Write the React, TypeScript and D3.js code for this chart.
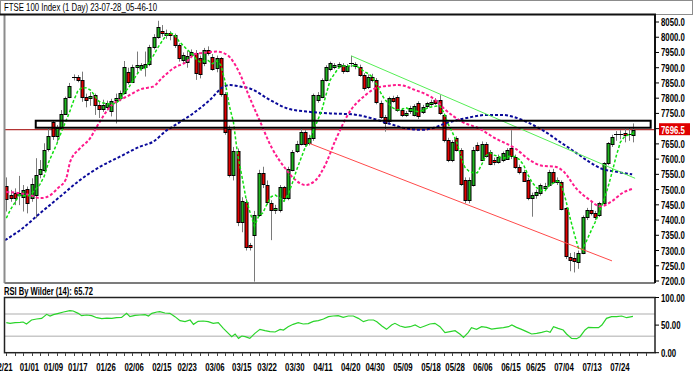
import React from 'react';
import * as d3 from 'd3';

// daily candles, oldest first
const opens = [
  7513, 7482, 7488, 7482, 7477, 7501, 7471, 7482, 7550, 7564, 7633, 7721, 7674, 7701, 7747, 7805, 7866, 7869, 7860, 7805,
  7798, 7810, 7778, 7766, 7772, 7758, 7794, 7800, 7818, 7887, 7854, 7903, 7898, 7903, 7914, 7969, 8002, 8020, 8007, 8013,
  8007, 7975, 7925, 7920, 7942, 7947, 7931, 7914, 7958, 7936, 7898, 7931, 7814, 7700, 7548, 7628, 7395, 7460, 7318, 7351,
  7417, 7555, 7515, 7457, 7433, 7433, 7507, 7471, 7566, 7628, 7652, 7690, 7652, 7668, 7795, 7805, 7860, 7893, 7903, 7905,
  7909, 7890, 7910, 7905, 7903, 7876, 7838, 7871, 7860, 7785, 7739, 7723, 7799, 7805, 7761, 7745, 7756, 7745, 7783, 7756,
  7772, 7781, 7794, 7794, 7745, 7663, 7597, 7668, 7630, 7530, 7466, 7515, 7646, 7599, 7650, 7624, 7597, 7590, 7597, 7602,
  7635, 7608, 7575, 7559, 7531, 7471, 7482, 7488, 7505, 7515, 7559, 7526, 7526, 7438, 7280, 7274, 7263, 7291, 7409, 7433,
  7422, 7415, 7455, 7586, 7652, 7680, 7682, 7687, 7680, 7680,
];
const highs = [
  7540, 7499, 7504, 7545, 7515, 7510, 7537, 7603, 7597, 7652, 7701, 7725, 7712, 7761, 7805, 7850, 7878, 7876, 7887, 7815,
  7820, 7815, 7790, 7795, 7792, 7798, 7815, 7825, 7922, 7900, 7910, 7953, 7915, 7953, 7975, 8010, 8054, 8040, 8025, 8020,
  8012, 7980, 7950, 7955, 7960, 7958, 7940, 7965, 7970, 7945, 7940, 7935, 7820, 7710, 7640, 7635, 7475, 7470, 7325, 7430,
  7565, 7575, 7530, 7465, 7450, 7515, 7512, 7575, 7630, 7660, 7700, 7695, 7680, 7815, 7820, 7865, 7908, 7920, 7915, 7918,
  7915, 7912, 7939, 7918, 7910, 7882, 7878, 7880, 7866, 7792, 7745, 7805, 7808, 7810, 7768, 7758, 7775, 7780, 7790, 7778,
  7788, 7795, 7800, 7810, 7750, 7670, 7662, 7675, 7636, 7540, 7540, 7640, 7655, 7658, 7656, 7630, 7605, 7615, 7625, 7636,
  7695, 7615, 7582, 7565, 7538, 7490, 7500, 7520, 7522, 7565, 7568, 7540, 7530, 7442, 7292, 7295, 7300, 7415, 7440, 7460,
  7430, 7460, 7590, 7656, 7680, 7692, 7695, 7700, 7702, 7717,
];
const lows = [
  7428, 7460, 7449, 7449, 7428, 7422, 7460, 7406, 7537, 7559, 7625, 7663, 7657, 7696, 7745, 7800, 7858, 7852, 7788, 7770,
  7775, 7745, 7735, 7755, 7760, 7740, 7717, 7790, 7812, 7845, 7850, 7880, 7890, 7871, 7905, 7960, 7995, 8002, 7995, 7990,
  7965, 7920, 7915, 7900, 7935, 7860, 7865, 7905, 7940, 7890, 7885, 7805, 7680, 7540, 7530, 7380, 7360, 7300, 7300, 7198,
  7410, 7505, 7450, 7334, 7420, 7425, 7460, 7465, 7560, 7620, 7645, 7640, 7645, 7660, 7785, 7800, 7855, 7888, 7895, 7898,
  7880, 7885, 7902, 7895, 7870, 7825, 7830, 7852, 7780, 7732, 7690, 7718, 7785, 7755, 7738, 7738, 7748, 7740, 7732, 7748,
  7765, 7775, 7778, 7745, 7655, 7590, 7590, 7625, 7512, 7455, 7455, 7510, 7625, 7595, 7605, 7580, 7580, 7585, 7590, 7598,
  7600, 7568, 7550, 7525, 7465, 7411, 7470, 7480, 7495, 7510, 7520, 7515, 7432, 7272, 7232, 7228, 7240, 7288, 7400, 7415,
  7400, 7410, 7450, 7580, 7640, 7660, 7665, 7655, 7660, 7655,
];
const closes = [
  7471, 7473, 7471, 7490, 7499, 7455, 7517, 7548, 7566, 7630, 7677, 7674, 7701, 7747, 7800, 7841, 7869, 7860, 7805, 7794,
  7806, 7778, 7766, 7778, 7785, 7790, 7800, 7816, 7903, 7854, 7903, 7909, 7909, 7912, 7969, 8002, 8035, 8013, 8013, 8007,
  7975, 7931, 7942, 7940, 7953, 7882, 7878, 7958, 7947, 7898, 7931, 7814, 7690, 7548, 7628, 7395, 7464, 7313, 7313, 7417,
  7555, 7520, 7460, 7433, 7440, 7507, 7471, 7566, 7624, 7650, 7690, 7652, 7668, 7810, 7810, 7860, 7903, 7914, 7909, 7912,
  7890, 7905, 7914, 7912, 7876, 7832, 7871, 7860, 7788, 7739, 7720, 7799, 7790, 7761, 7745, 7750, 7767, 7774, 7739, 7772,
  7783, 7789, 7783, 7750, 7663, 7597, 7655, 7630, 7520, 7466, 7531, 7630, 7630, 7650, 7610, 7586, 7590, 7607, 7619, 7630,
  7608, 7575, 7559, 7531, 7471, 7482, 7493, 7515, 7512, 7559, 7526, 7531, 7438, 7280, 7271, 7263, 7291, 7409, 7433, 7422,
  7409, 7455, 7586, 7652, 7674, 7682, 7684, 7679, 7682, 7696.5,
];
// the four closes before the first bar, for the 5-day average
const priorCloses = [7332, 7361, 7370, 7497];

// 20- and 50-day averages: [bar, price]
const pinkMA = [
  [0, 7492], [3.3, 7488], [5.6, 7482], [8.2, 7472], [10.5, 7482], [12.2, 7504], [14.2, 7535], [15.2, 7592],
  [17.5, 7635], [19.9, 7668], [21.5, 7706], [24.7, 7772], [28.6, 7805], [32.6, 7832], [34.9, 7838], [37, 7866],
  [39.7, 7898], [42.9, 7920], [44.9, 7945], [47.6, 7950], [50, 7953], [52.5, 7942], [55.3, 7887], [57.6, 7810],
  [60, 7734], [63.2, 7635], [66.3, 7570], [68.7, 7532], [71.1, 7515], [73.5, 7530], [75.8, 7580], [78.2, 7660],
  [81.4, 7750], [85.4, 7810], [88.5, 7836], [93.3, 7843], [97.2, 7827], [102, 7794], [104.4, 7762], [108.3, 7723],
  [112.3, 7701], [116.3, 7668], [121, 7635], [125, 7592], [127.4, 7578], [130.5, 7575], [132.5, 7559], [135.5, 7504],
  [138.8, 7465], [141.2, 7445], [144, 7462], [146.4, 7488], [148.8, 7502],
];
const blueMA = [
  [-0.3, 7334], [3.3, 7367], [8, 7422], [12.8, 7477], [17.5, 7531], [22.3, 7575], [27, 7608], [31.8, 7641],
  [34.9, 7657], [38.2, 7695], [39.6, 7707], [44.4, 7750], [48.4, 7794], [51.5, 7836], [53.2, 7843], [55.6, 7838],
  [57.9, 7832], [62.7, 7794], [66.7, 7767], [71.4, 7756], [77, 7750], [82.2, 7747], [86.9, 7734], [90.9, 7717],
  [94.9, 7701], [98.8, 7696], [101.2, 7701], [104.4, 7717], [109.1, 7734], [114.3, 7745], [117.9, 7745], [120.5, 7739],
  [124.5, 7717], [127.4, 7696], [132.1, 7652], [134.5, 7630], [138.5, 7592], [141.6, 7568], [144.8, 7559], [148.8, 7550],
];

// RSI (14): [bar, value]
const rsiPoints = [
  [0, 54.4], [0.9, 53.2], [2.1, 54.4], [3.3, 55], [4, 55.6], [4.8, 52], [6, 59.2], [7.2, 61], [8.4, 62.2], [9.6, 69.5],
  [10.4, 66.5], [11.2, 68.9], [12.4, 71.3], [13.6, 73.7], [15.1, 76.1], [15.9, 75.5], [17.1, 71.3], [17.9, 67.1],
  [19.1, 68.3], [20.3, 67.1], [21.5, 63.4], [22.7, 61.6], [23.9, 62.8], [25.1, 62.2], [26.2, 63.4], [27.4, 64],
  [28.6, 71.3], [29.4, 65.3], [30.6, 67.7], [31.8, 68.3], [33, 68.9], [33.8, 66.5], [34.6, 71.3], [35.8, 73.7],
  [36.5, 74.3], [37.7, 71.9], [38.9, 71.3], [40.1, 65.3], [41.3, 58], [42.5, 56.2], [43.7, 59.2], [44.5, 51.4],
  [45.6, 56.8], [46.8, 57.4], [48, 56.2], [49.2, 53.2], [50.4, 54.4], [51.6, 44.1], [52.8, 35.1], [53.6, 29],
  [54.4, 33.9], [55.2, 26], [56, 30.2], [56.8, 29], [57.9, 26], [59.1, 35.1], [60.3, 42.3], [61.5, 39.9],
  [62.7, 38.1], [63.9, 37.5], [65.1, 42.3], [65.9, 41.1], [67, 47.1], [68.2, 51.4], [69.4, 54.4], [70.6, 52],
  [71.8, 52.6], [73, 56.8], [74.2, 58], [75.4, 61], [76.6, 65.3], [77.7, 66.5], [78.9, 67.1], [80.1, 64],
  [81.3, 66.5], [82.5, 66.5], [83.7, 62.2], [84.9, 56.2], [86.1, 59.2], [87.3, 59.2], [88.1, 56.2], [89.3, 48.4],
  [90.4, 42.3], [91.6, 50.2], [92.4, 53.2], [93.6, 48.4], [94.8, 45.9], [96, 47.1], [97.2, 50.2], [98.4, 45.3],
  [99.5, 48.4], [100.7, 52], [101.9, 53.2], [103.1, 47.1], [104.3, 36.3], [105.5, 38.1], [106.7, 39.9], [107.9, 33.3],
  [108.7, 27.8], [109.8, 36.3], [110.6, 45.3], [111.8, 42.3], [113, 47.1], [114.2, 45.9], [115.4, 42.9], [116.6, 44.1],
  [118.2, 45.3], [119.4, 47.1], [120.2, 50.2], [121.3, 45.9], [122.5, 42.3], [123.7, 38.1], [124.9, 33.9], [126.1, 35.1],
  [127.3, 36.9], [128.5, 39.3], [129.3, 36.9], [130.1, 47.1], [131.2, 44.1], [132.4, 41.1], [133.2, 33.9], [134.4, 26],
  [135.6, 25.4], [136.4, 29], [137.6, 41.1], [138.4, 45.9], [139.6, 45.3], [140.8, 45.3], [141.6, 50.2], [142.7, 62.2],
  [143.9, 65.3], [145.1, 65.3], [146.3, 66.5], [147.5, 63.4], [149, 65.72],
];

// drawn objects: [bar, price]
const greenTrend = [[82, 7939], [149.5, 7537]];
const redTrend = [[72, 7652], [144, 7266]];
const zoneBox = [[7, 7726], [153.2, 7703]];

const dateLabels = ['12/21', '01/01', '01/09', '01/17', '01/26', '02/06', '02/15', '02/23', '03/06', '03/15', '03/22', '03/30',
  '04/11', '04/20', '04/30', '05/09', '05/18', '05/28', '06/06', '06/15', '06/25', '07/04', '07/13', '07/24'];
const dateBars = [-0.8, 5.5, 11.2, 17, 23.7, 30.4, 37, 43, 49.6, 56, 62, 68.6, 75.3, 81.9, 87.7, 94.3, 101, 106.7,
  113.3, 120, 125.9, 132.6, 139.3, 145.9];
const priceTicks = [8050, 8000, 7950, 7900, 7850, 7800, 7750, 7700, 7650, 7600, 7550, 7500, 7450, 7400, 7350, 7300, 7250, 7200];
const rsiTicks = [100, 50, 0];
const rsiBands = [70, 30];
const lastPrice = 7696.5;
const lastRsi = 65.72;

const W = 693;
const H = 390;
const L = 4.5;
const R = 655;
const TOP = 14.5;
const BOT = 283;
const sans = '"Liberation Sans", Arial, sans-serif';

// the chart's font is a tall, narrow bold face: squeeze Liberation Sans to that width
const squeeze = s => s.split('').reduce((w, ch) => w + (/[0-9]/.test(ch) ? 4.3 : 2.3), 0);

const Label = ({ x, y, text, anchor = 'start', fill = '#000' }) => (
  <text x={x} y={y} textAnchor={anchor} fontFamily={sans} fontSize={10.5} fontWeight="bold" fill={fill}
    textLength={squeeze(text)} lengthAdjust="spacingAndGlyphs">
    {text}
  </text>
);

const App = () => {
  const x = d3.scaleLinear().domain([0, 149]).range([6.3, 633]);
  const y = d3.scaleLinear().domain([7200, 8050]).range([281, 22]);
  const ry = d3.scaleLinear().domain([0, 100]).range([352.7, 297.5]);

  const all = [...priorCloses, ...closes];
  const sma5 = closes.map((_, i) => [i, d3.mean(all.slice(i, i + 5))]);

  const priceLine = d3.line().x(d => x(d[0])).y(d => y(d[1]));
  const smooth = d3.line().x(d => x(d[0])).y(d => y(d[1])).curve(d3.curveMonotoneX);
  const rsiLine = d3.line().x(d => x(d[0])).y(d => ry(d[1]));

  const px = v => Math.round(v) + 0.5;

  return (
    <div style={{ position: 'absolute', left: 0, top: 0, background: '#fff' }}>
      <svg width={W} height={H} style={{ display: 'block' }}>
        <defs>
          <clipPath id="main">
            <rect x={L} y={TOP} width={R - L} height={BOT - TOP} />
          </clipPath>
          <clipPath id="low">
            <rect x={L} y={297} width={R - L} height={56} />
          </clipPath>
        </defs>
        <rect width={W} height={H} fill="#fff" />

        {/* title bar */}
        <rect x={0.5} y={0.5} width={692} height={14} fill="#fff" stroke="#8c8c8c" />
        <text x={4} y={11} fontFamily={sans} fontSize={10.5} textLength={153} lengthAdjust="spacingAndGlyphs">
          FTSE 100 Index (1 Day) 23-07-28_05-46-10
        </text>

        {/* price panel */}
        <g clipPath="url(#main)">
          <line x1={L} x2={R} y1={y(lastPrice)} y2={y(lastPrice)} stroke="#a00000" strokeWidth={1} />
          {closes.map((c, i) => {
            const o = opens[i];
            const cx = Math.round(x(i));
            const t = y(Math.max(o, c));
            const b = y(Math.min(o, c));
            return (
              <g key={i}>
                <line x1={cx + 0.5} x2={cx + 0.5} y1={y(highs[i])} y2={y(lows[i])} stroke="#7a7a7a" />
                {b - t < 1.5 ? (
                  <line x1={cx - 2} x2={cx + 3} y1={px(t)} y2={px(t)} stroke="#000" />
                ) : (
                  <rect x={cx - 1} y={Math.round(t) + 0.5} width={3} height={Math.max(1, Math.round(b - t))}
                    fill={c >= o ? '#1fb51f' : '#e00000'} stroke="#000" />
                )}
              </g>
            );
          })}
          <path d={smooth(blueMA)} fill="none" stroke="#0a0a9a" strokeWidth={2} strokeDasharray="3,2" />
          <path d={smooth(pinkMA)} fill="none" stroke="#ff1a8c" strokeWidth={2} strokeDasharray="3,2" />
          <path d={priceLine(sma5)} fill="none" stroke="#10e010" strokeWidth={1.5} strokeDasharray="3,2" />
          <path d={priceLine(greenTrend)} fill="none" stroke="#55ee55" strokeWidth={1} />
          <path d={priceLine(redTrend)} fill="none" stroke="#ff4a4a" strokeWidth={1} />
          <rect x={x(zoneBox[0][0])} y={y(zoneBox[0][1])} width={x(zoneBox[1][0]) - x(zoneBox[0][0])}
            height={y(zoneBox[1][1]) - y(zoneBox[0][1])} fill="none" stroke="#000" strokeWidth={2} />
        </g>
        <line x1={L} x2={L} y1={TOP} y2={BOT} stroke="#8c8c8c" strokeWidth={2} />
        <line x1={L} x2={R} y1={BOT} y2={BOT} stroke="#7c7c7c" strokeWidth={2} />
        <line x1={0} x2={R + 1} y1={TOP} y2={TOP} stroke="#111" strokeWidth={2} />
        <line x1={R} x2={R} y1={TOP} y2={BOT} stroke="#111" strokeWidth={2} />

        {priceTicks.map(t => (
          <g key={t}>
            <line x1={R} x2={R + 4} y1={y(t)} y2={y(t)} stroke="#000" />
            <Label x={661} y={y(t) + 4} text={t.toFixed(1)} />
          </g>
        ))}
        <rect x={659} y={y(lastPrice) - 6.5} width={31} height={12} fill="#e00000" />
        <Label x={661} y={y(lastPrice) + 4} text={lastPrice.toFixed(1)} fill="#fff" />

        {/* RSI panel */}
        <text x={4} y={295} fontFamily={sans} fontSize={10} fontWeight="bold" textLength={89} lengthAdjust="spacingAndGlyphs">
          {`RSI By Wilder (14): ${lastRsi.toFixed(2)}`}
        </text>
        {rsiBands.map(v => (
          <line key={v} x1={L} x2={R} y1={ry(v)} y2={ry(v)} stroke="#c8c8c8" strokeWidth={1.5} />
        ))}
        <path d={rsiLine(rsiPoints)} fill="none" stroke="#2ad42a" strokeWidth={1.2} clipPath="url(#low)" />
        <rect x={L} y={297.5} width={R - L} height={55.2} fill="none" stroke="#222" strokeWidth={1.5} />
        {rsiTicks.map(t => (
          <g key={t}>
            <line x1={R} x2={R + 4} y1={ry(t)} y2={ry(t)} stroke="#000" />
            <Label x={661} y={ry(t) + 4} text={t.toFixed(2)} />
          </g>
        ))}

        {/* date axis */}
        {d3.range(0, 154, 2).map(i => (
          <line key={i} x1={px(x(i))} x2={px(x(i))} y1={353} y2={356} stroke="#444" />
        ))}
        {dateLabels.map((d, i) => (
          <Label key={d} x={x(dateBars[i])} y={371} text={d} anchor="middle" />
        ))}
      </svg>
    </div>
  );
};

export default App;
